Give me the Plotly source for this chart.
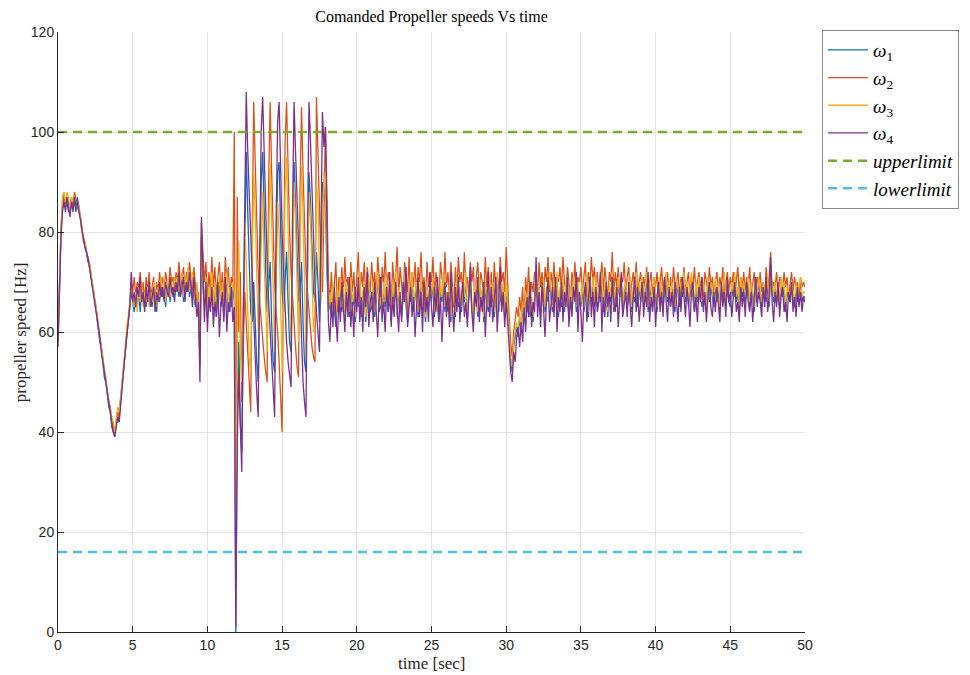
import numpy as np
import plotly.graph_objects as go

# time base: 0 .. 50 s, 0.1 s steps (501 samples)
time_s = np.round(np.arange(501) * 0.1, 1)

# omega_1 (blue)
w1 = [
    59, 72, 80, 85, 87, 85, 86, 84, 85, 87,
    85, 86, 84, 87, 85, 83, 80, 79, 77, 76,
    74, 74, 71, 70, 67, 66, 63, 60, 58, 57,
    54, 51, 50, 47, 45, 44, 41, 40, 40, 42,
    42, 44, 47, 50, 53, 57, 60, 63, 66, 68,
    66, 64, 67, 65, 68, 64, 69, 66, 67, 65,
    68, 66, 67, 65, 69, 66, 64, 68, 66, 70,
    67, 69, 65, 68, 70, 66, 69, 67, 70, 68,
    70, 67, 69, 71, 66, 70, 68, 72, 67, 69,
    71, 67, 65, 69, 64, 55, 79, 69, 65, 70,
    63, 68, 65, 71, 64, 69, 63, 67, 70, 65,
    69, 63, 67, 71, 64, 68, 65, 69, 66, 0,
    45, 58, 42, 36, 60, 84, 96, 84, 72, 64,
    62, 70, 62, 54, 50, 70, 90, 96, 82, 72,
    64, 70, 74, 62, 54, 52, 76, 92, 94, 80,
    68, 64, 72, 76, 66, 58, 56, 78, 94, 86,
    74, 66, 68, 74, 62, 54, 52, 74, 92, 86,
    76, 68, 66, 76, 70, 62, 72, 90, 88, 86,
    72, 64, 66, 63, 68, 65, 61, 67, 64, 69,
    64, 68, 62, 69, 66, 63, 70, 65, 67, 62,
    68, 65, 71, 63, 67, 69, 62, 66, 70, 64,
    65, 69, 63, 67, 71, 64, 66, 62, 69, 65,
    70, 64, 67, 62, 69, 66, 71, 63, 68, 65,
    63, 67, 70, 65, 62, 68, 66, 71, 64, 67,
    69, 63, 66, 70, 64, 67, 62, 69, 65, 68,
    66, 70, 63, 68, 65, 62, 69, 66, 71, 64,
    67, 64, 69, 62, 68, 66, 63, 70, 65, 68,
    64, 68, 66, 71, 63, 67, 69, 65, 62, 69,
    67, 63, 70, 65, 68, 62, 69, 66, 64, 70,
    65, 69, 63, 67, 71, 64, 68, 65, 69, 63,
    69, 64, 59, 54, 52, 57, 59, 61, 59, 63,
    60, 65, 62, 67, 64, 69, 63, 66, 62, 68,
    71, 65, 69, 63, 67, 70, 64, 68, 66, 71,
    67, 64, 69, 66, 71, 63, 68, 65, 70, 64,
    69, 66, 63, 68, 65, 70, 67, 64, 69, 66,
    65, 69, 64, 67, 71, 63, 68, 66, 70, 65,
    70, 65, 68, 66, 71, 64, 69, 67, 63, 69,
    66, 71, 64, 68, 65, 70, 67, 69, 64, 68,
    69, 65, 67, 70, 64, 68, 66, 71, 65, 69,
    66, 70, 65, 68, 71, 64, 69, 67, 65, 70,
    67, 64, 70, 66, 69, 65, 68, 71, 66, 69,
    65, 69, 67, 64, 70, 68, 65, 69, 67, 71,
    66, 69, 65, 68, 71, 67, 64, 69, 66, 70,
    68, 65, 69, 67, 64, 70, 66, 69, 67, 65,
    70, 66, 69, 64, 68, 67, 71, 65, 69, 66,
    65, 69, 67, 71, 66, 68, 64, 70, 67, 69,
    66, 68, 70, 65, 69, 67, 64, 69, 66, 70,
    67, 65, 69, 67, 66, 70, 65, 71, 68, 66,
    69, 66, 68, 65, 70, 67, 69, 64, 68, 67,
    66, 69, 67, 65, 69, 66, 68, 70, 66, 67,
    67,
]

# omega_2 (orange)
w2 = [
    58, 71, 80, 86, 88, 85, 87, 86, 84, 86,
    85, 88, 86, 85, 84, 83, 81, 78, 78, 76,
    75, 73, 72, 69, 68, 65, 64, 61, 59, 57,
    55, 52, 50, 49, 46, 45, 42, 41, 39, 42,
    44, 43, 46, 50, 52, 56, 60, 62, 65, 70,
    68, 71, 67, 70, 69, 72, 68, 70, 66, 71,
    68, 72, 67, 69, 71, 66, 70, 68, 72, 69,
    71, 68, 72, 70, 69, 73, 70, 71, 68, 72,
    70, 74, 69, 71, 73, 68, 72, 70, 74, 71,
    67, 73, 69, 66, 68, 53, 82, 74, 70, 74,
    66, 72, 68, 75, 69, 73, 67, 71, 74, 68,
    72, 66, 75, 70, 73, 67, 71, 69, 100, 20,
    87, 60, 72, 46, 58, 68, 62, 55, 50, 44,
    80, 106, 94, 80, 72, 66, 62, 58, 55, 52,
    50, 90, 106, 92, 78, 70, 64, 60, 54, 46,
    40, 72, 98, 106, 90, 80, 72, 66, 62, 57,
    53, 51, 88, 105, 92, 80, 72, 68, 64, 60,
    57, 55, 54, 107, 96, 84, 74, 68, 84, 101,
    88, 70, 66, 72, 65, 70, 74, 64, 71, 68,
    73, 67, 75, 69, 71, 65, 74, 68, 72, 66,
    71, 76, 67, 72, 69, 74, 66, 73, 70, 68,
    74, 69, 72, 66, 75, 70, 67, 73, 69, 76,
    68, 72, 70, 65, 74, 69, 71, 77, 67, 73,
    70, 66, 74, 71, 68, 75, 67, 72, 69, 74,
    67, 73, 70, 76, 68, 71, 66, 74, 69, 72,
    70, 75, 67, 72, 69, 66, 74, 71, 68, 76,
    69, 72, 67, 74, 70, 65, 73, 68, 75, 70,
    72, 68, 76, 69, 71, 67, 74, 70, 73, 66,
    71, 74, 68, 72, 70, 67, 75, 69, 73, 68,
    72, 66, 74, 69, 71, 68, 75, 70, 72, 68,
    77, 68, 63, 58, 55, 60, 62, 65, 63, 67,
    64, 69, 62, 71, 67, 73, 66, 70, 68, 72,
    70, 67, 74, 69, 72, 66, 73, 70, 75, 68,
    72, 69, 74, 67, 71, 70, 73, 68, 75, 70,
    68, 73, 70, 66, 72, 69, 74, 67, 71, 70,
    73, 68, 71, 74, 67, 72, 69, 75, 70, 73,
    69, 72, 67, 71, 74, 68, 73, 70, 66, 72,
    70, 76, 68, 72, 69, 73, 67, 71, 70, 74,
    68, 71, 73, 67, 70, 72, 69, 74, 68, 70,
    72, 67, 71, 69, 73, 68, 70, 72, 67, 71,
    69, 72, 67, 70, 73, 68, 71, 69, 72, 67,
    71, 68, 73, 69, 70, 72, 67, 71, 69, 73,
    68, 70, 72, 67, 71, 69, 73, 68, 70, 72,
    69, 71, 67, 72, 70, 68, 73, 69, 71, 67,
    70, 72, 68, 71, 69, 73, 67, 70, 72, 68,
    71, 69, 72, 67, 70, 73, 68, 71, 69, 72,
    68, 71, 69, 73, 67, 70, 72, 68, 71, 69,
    72, 68, 70, 67, 73, 69, 71, 76, 68, 70,
    69, 72, 67, 71, 70, 68, 72, 69, 71, 67,
    70, 72, 68, 71, 69, 70, 67, 71, 69, 70,
    69,
]

# omega_3 (yellow)
w3 = [
    58, 72, 81, 87, 88, 86, 88, 87, 84, 87,
    86, 87, 85, 86, 85, 83, 80, 79, 78, 76,
    75, 74, 72, 70, 67, 66, 64, 62, 59, 57,
    55, 52, 51, 48, 46, 45, 43, 42, 40, 43,
    45, 44, 47, 51, 53, 57, 61, 63, 66, 69,
    67, 65, 68, 64, 69, 66, 70, 65, 68, 66,
    69, 65, 68, 66, 70, 67, 65, 69, 67, 71,
    68, 70, 66, 69, 71, 67, 70, 68, 71, 69,
    71, 68, 70, 72, 67, 71, 69, 73, 68, 70,
    72, 68, 66, 70, 65, 54, 78, 70, 66, 71,
    64, 69, 66, 72, 65, 70, 64, 68, 71, 66,
    70, 64, 68, 72, 65, 69, 66, 70, 68, 19,
    60, 78, 56, 50, 66, 82, 74, 62, 55, 52,
    72, 92, 84, 70, 60, 66, 80, 88, 74, 62,
    56, 78, 94, 82, 66, 56, 70, 86, 80, 64,
    52, 66, 88, 95, 80, 66, 58, 74, 90, 82,
    66, 58, 76, 93, 84, 68, 55, 70, 88, 82,
    68, 60, 64, 90, 86, 72, 66, 78, 92, 88,
    74, 64, 68, 65, 70, 67, 63, 69, 66, 71,
    65, 69, 63, 70, 67, 64, 71, 66, 68, 63,
    69, 66, 72, 64, 68, 70, 63, 67, 71, 65,
    66, 70, 64, 68, 72, 65, 67, 63, 70, 66,
    71, 65, 68, 63, 70, 67, 72, 64, 69, 66,
    64, 68, 71, 66, 63, 69, 67, 72, 65, 68,
    70, 64, 67, 71, 65, 68, 63, 70, 66, 69,
    67, 71, 64, 69, 66, 63, 70, 67, 72, 65,
    68, 65, 70, 63, 69, 67, 64, 71, 66, 69,
    65, 69, 67, 72, 64, 68, 70, 66, 63, 70,
    68, 64, 71, 66, 69, 63, 70, 67, 65, 71,
    66, 70, 64, 68, 72, 65, 69, 66, 70, 64,
    70, 65, 60, 55, 53, 58, 60, 62, 60, 64,
    61, 66, 63, 68, 65, 70, 64, 67, 63, 69,
    72, 66, 70, 64, 68, 71, 65, 69, 67, 72,
    68, 65, 70, 67, 72, 64, 69, 66, 71, 65,
    70, 67, 64, 69, 66, 71, 68, 65, 70, 67,
    66, 70, 65, 68, 72, 64, 69, 67, 71, 66,
    71, 66, 69, 67, 72, 65, 70, 68, 64, 70,
    67, 72, 65, 69, 66, 71, 68, 70, 65, 69,
    70, 66, 68, 71, 65, 69, 67, 72, 66, 70,
    67, 71, 66, 69, 72, 65, 70, 68, 66, 71,
    68, 65, 71, 67, 70, 66, 69, 72, 67, 70,
    66, 70, 68, 65, 71, 69, 66, 70, 68, 72,
    67, 70, 66, 69, 72, 68, 65, 70, 67, 71,
    69, 66, 70, 68, 65, 71, 67, 70, 68, 66,
    71, 67, 70, 65, 69, 68, 72, 66, 70, 67,
    66, 70, 68, 72, 67, 69, 65, 71, 68, 70,
    67, 69, 71, 66, 70, 68, 65, 70, 67, 71,
    68, 66, 70, 68, 67, 71, 66, 72, 69, 67,
    70, 67, 69, 66, 71, 68, 70, 65, 69, 68,
    67, 70, 68, 66, 70, 67, 69, 71, 67, 68,
    68,
]

# omega_4 (purple)
w4 = [
    57, 70, 79, 84, 86, 84, 87, 85, 83, 86,
    84, 87, 85, 86, 84, 82, 80, 78, 77, 76,
    75, 73, 71, 69, 67, 65, 63, 61, 59, 56,
    54, 52, 50, 48, 46, 44, 42, 40, 39, 41,
    43, 42, 46, 49, 52, 56, 59, 62, 65, 72,
    66, 68, 65, 69, 67, 71, 66, 68, 64, 69,
    66, 70, 65, 67, 69, 64, 68, 66, 70, 67,
    69, 66, 70, 68, 67, 71, 68, 69, 66, 70,
    68, 72, 67, 69, 71, 66, 70, 68, 72, 69,
    65, 71, 67, 63, 66, 50, 83, 71, 62, 70,
    60, 67, 64, 69, 61, 66, 63, 70, 59, 65,
    68, 62, 71, 60, 66, 64, 69, 62, 65, 1,
    38, 52, 40, 32, 62, 92, 108, 96, 88, 76,
    70, 60, 55, 48, 43, 75, 100, 107, 94, 85,
    74, 66, 60, 52, 46, 43, 82, 102, 106, 90,
    80, 72, 64, 58, 54, 51, 49, 84, 106, 96,
    86, 76, 66, 58, 50, 46, 43, 80, 106, 98,
    88, 78, 70, 64, 60, 56, 80, 104, 97, 101,
    82, 62, 58, 66, 61, 69, 63, 58, 67, 62,
    70, 64, 60, 68, 63, 71, 61, 66, 59, 69,
    64, 71, 62, 67, 60, 69, 65, 72, 61, 66,
    68, 62, 70, 64, 59, 67, 71, 63, 66, 60,
    69, 64, 72, 61, 67, 63, 70, 65, 60, 68,
    62, 70, 66, 73, 61, 65, 69, 63, 67, 59,
    66, 71, 63, 68, 60, 70, 64, 67, 62, 72,
    65, 61, 69, 64, 71, 62, 67, 58, 66, 70,
    63, 68, 61, 72, 65, 60, 69, 64, 71, 62,
    67, 70, 63, 66, 61, 69, 73, 64, 60, 68,
    65, 71, 62, 67, 64, 70, 59, 66, 72, 63,
    69, 62, 67, 71, 60, 66, 73, 64, 68, 61,
    66, 62, 57, 52, 50, 56, 54, 59, 61, 57,
    62, 58, 65, 60, 67, 63, 70, 61, 66, 64,
    75, 63, 68, 61, 70, 65, 59, 67, 71, 62,
    66, 69, 63, 71, 60, 67, 64, 70, 62, 68,
    65, 71, 61, 67, 63, 69, 66, 72, 60, 68,
    64, 58, 67, 70, 62, 66, 71, 63, 68, 61,
    69, 64, 66, 72, 60, 67, 63, 70, 65, 68,
    62, 71, 66, 64, 69, 61, 67, 72, 63, 66,
    68, 63, 70, 65, 61, 67, 71, 64, 69, 62,
    66, 70, 63, 68, 65, 72, 62, 67, 64, 69,
    61, 67, 70, 64, 68, 63, 71, 66, 62, 69,
    65, 68, 63, 70, 66, 62, 69, 64, 71, 67,
    63, 69, 66, 61, 68, 70, 64, 67, 62, 69,
    66, 71, 64, 68, 62, 67, 70, 65, 63, 68,
    64, 69, 66, 62, 70, 65, 68, 63, 71, 66,
    68, 63, 67, 70, 64, 66, 62, 69, 65, 68,
    63, 70, 66, 64, 68, 62, 67, 71, 65, 68,
    66, 63, 69, 65, 71, 64, 67, 75, 66, 62,
    68, 65, 70, 63, 67, 69, 64, 66, 62, 68,
    66, 70, 64, 67, 63, 69, 65, 68, 64, 67,
    66,
]

limit_x = [0, 50]
upper_limit = [100, 100]
lower_limit = [16, 16]

series_names = ["<i>ω</i><sub>1</sub>", "<i>ω</i><sub>2</sub>",
                "<i>ω</i><sub>3</sub>", "<i>ω</i><sub>4</sub>"]
series_colors = ["#0072BD", "#D95319", "#EDB120", "#7E2F8E"]

x_ticks = [0, 5, 10, 15, 20, 25, 30, 35, 40, 45, 50]
y_ticks = [0, 20, 40, 60, 80, 100, 120]

fig = go.Figure()
for name, col, vals in zip(series_names, series_colors, [w1, w2, w3, w4]):
    fig.add_trace(go.Scatter(x=time_s, y=vals, mode="lines", name=name,
                             line=dict(color=col, width=1.3)))

fig.add_trace(go.Scatter(x=limit_x, y=upper_limit, mode="lines",
                         name="<i>upperlimit</i>",
                         line=dict(color="#77AC30", width=2.5, dash="9px,6px")))
fig.add_trace(go.Scatter(x=limit_x, y=lower_limit, mode="lines",
                         name="<i>lowerlimit</i>",
                         line=dict(color="#4DBEEE", width=2.5, dash="9px,6px")))

axis_common = dict(
    showgrid=True, gridcolor="#e4e4e4", gridwidth=1,
    showline=True, linecolor="#262626", linewidth=1,
    ticks="inside", ticklen=6, tickcolor="#262626", tickwidth=1,
    zeroline=False, mirror=False,
    tickfont=dict(family="Liberation Sans, Arial, sans-serif", size=14, color="#262626"),
)

fig.update_layout(
    width=970, height=675,
    margin=dict(l=58, r=164, t=32, b=43),
    paper_bgcolor="white", plot_bgcolor="white",
    showlegend=True,
    title=dict(text="Comanded Propeller speeds Vs time",
               font=dict(family="Liberation Serif, DejaVu Serif, serif", size=16, color="#000000"),
               x=0.5, xref="paper", xanchor="center",
               y=1 - 16 / 675, yref="container", yanchor="middle"),
    legend=dict(x=1.0214, y=1.0033, xanchor="left", yanchor="top",
                bordercolor="#8a8a8a", borderwidth=1, bgcolor="white",
                font=dict(family="Liberation Serif, DejaVu Serif, serif", size=19, color="#000000"),
                tracegroupgap=0, itemwidth=40),
    xaxis=dict(range=[0, 50], tickvals=x_ticks, **axis_common),
    yaxis=dict(range=[0, 120], tickvals=y_ticks, **axis_common),
    annotations=[
        dict(text="time [sec]", xref="paper", yref="paper", x=0.5, y=-0.052,
             xanchor="center", yanchor="middle", showarrow=False,
             font=dict(family="Liberation Serif, DejaVu Serif, serif", size=17, color="#262626")),
        dict(text="propeller speed [Hz]", xref="paper", yref="paper", x=-0.0505, y=0.5,
             xanchor="center", yanchor="middle", showarrow=False, textangle=-90,
             font=dict(family="Liberation Serif, DejaVu Serif, serif", size=17, color="#262626")),
    ],
)

fig.write_html("out.html")
